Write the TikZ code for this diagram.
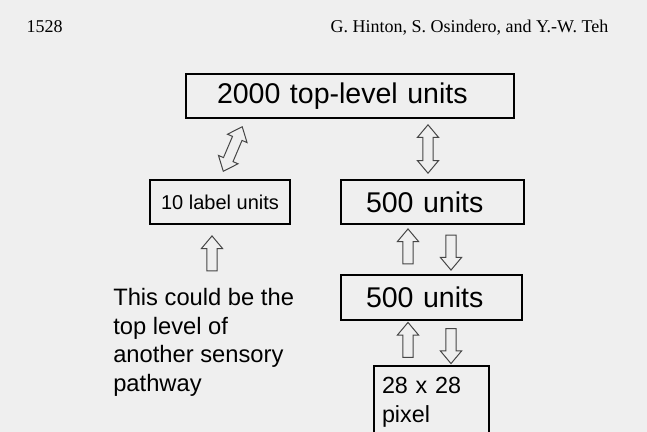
\documentclass[tikz,border=0pt]{standalone}
\usepackage{fontspec}
\setmainfont{Liberation Serif}
\newfontfamily\arialfont{Liberation Sans}
\usetikzlibrary{shapes.arrows, positioning}
\definecolor{pagegray}{RGB}{239,239,239}
\definecolor{arrowgray}{RGB}{70,70,70}

\begin{document}
\begin{tikzpicture}[x=0.75pt, y=-0.75pt,
    unitbox/.style={draw, line width=1.5pt, anchor=north west, inner ysep=0pt, minimum height=33pt},
    bigtext/.style={font=\arialfont\fontsize{21.4}{25}\selectfont},
    blockarrow/.style={single arrow, draw=arrowgray, line width=0.75pt, sloped, allow upside down,
        inner sep=3.5pt, single arrow head extend=4.1pt, single arrow tip angle=80, minimum height=26.25pt},
    twowayarrow/.style={double arrow, draw=arrowgray, line width=0.75pt, sloped, allow upside down,
        inner sep=3.5pt, double arrow head extend=4.1pt, double arrow tip angle=80, minimum height=36.3pt}]
\fill[pagegray] (0,0) rectangle (647,432);
\useasboundingbox (0,0) rectangle (647,432);

\node[anchor=base west, font=\fontsize{13.5}{16}\selectfont] (pagenum) at (22,32) {1528};
\node[anchor=base east, font=\fontsize{13.5}{16}\selectfont] (authors) at (613,32) {G. Hinton, S. Osindero, and Y.-W. Teh};

\node[unitbox, bigtext, text width=199.5pt, inner xsep=23.25pt, align=left] (toplevel) at (185,73) {2000 top-level units};
\node[unitbox, font=\arialfont\fontsize{15}{18}\selectfont, minimum width=105pt, inner xsep=0pt] (label) at (149,179) {10 label units};
\node[unitbox, bigtext, text width=99.75pt, inner xsep=18.75pt, align=left] (hidA) at (340,179) {500 units};
\node[unitbox, bigtext, text width=98.25pt, inner xsep=18.75pt, align=left, minimum height=33.75pt] (hidB) at (340,274) {500 units};
\node[draw, line width=1.5pt, anchor=north west, align=left, font=\arialfont\fontsize{17.5}{21.75}\selectfont,
    text width=74.25pt, inner xsep=6pt, inner ysep=8.25pt] (pix) at (373,365) {28 x 28\\pixel};
\node[anchor=north west, inner sep=0pt, align=left, font=\arialfont\fontsize{17.8}{21.4}\selectfont] (note) at (113,288)
    {This could be the\\top level of\\another sensory\\pathway};

\coordinate (diagx) at (245.5,0);
\coordinate (topx) at (428,0);
\coordinate (upx) at (408,0);
\coordinate (downx) at (451,0);
\coordinate (lblx) at (212,0);

\path (label.north) -- node[twowayarrow] {} (toplevel.south -| diagx);
\path (hidA.north -| topx) -- node[twowayarrow] {} (toplevel.south -| topx);
\path (hidB.north -| upx) -- node[blockarrow] {} (hidA.south -| upx);
\path (hidA.south -| downx) -- node[blockarrow] {} (hidB.north -| downx);
\path (pix.north -| upx) -- node[blockarrow] {} (hidB.south -| upx);
\path (hidB.south -| downx) -- node[blockarrow] {} (pix.north -| downx);
\path (note.north -| lblx) -- node[blockarrow] {} (label.south -| lblx);
\end{tikzpicture}
\end{document}
